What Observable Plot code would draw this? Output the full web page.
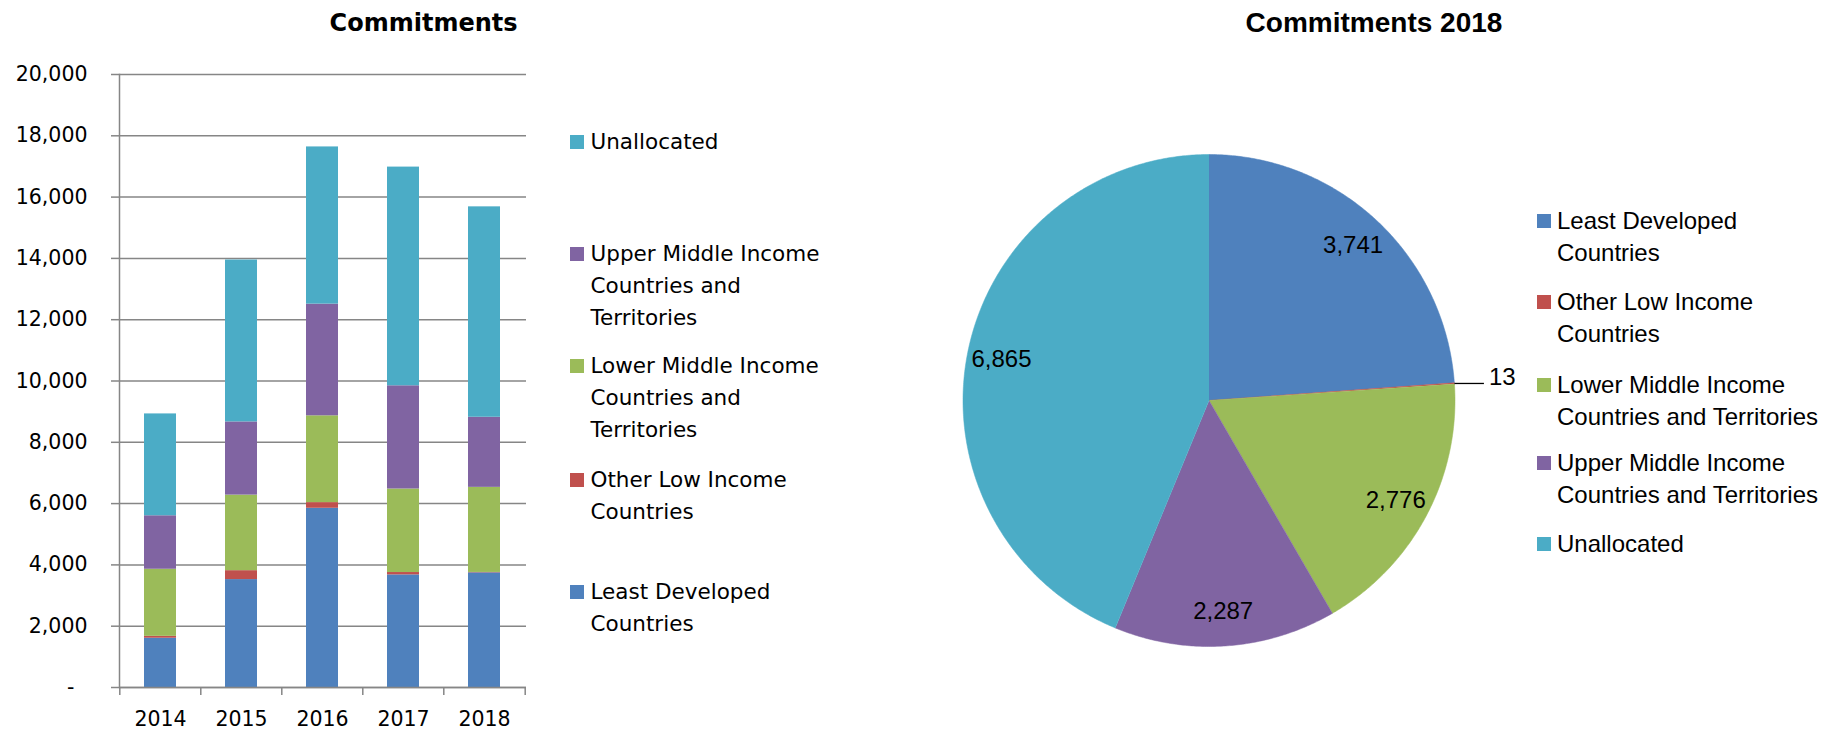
<!DOCTYPE html>
<html><head><meta charset="utf-8">
<script src="https://cdn.jsdelivr.net/npm/d3@7"></script>
<script src="https://cdn.jsdelivr.net/npm/@observablehq/plot@0.6"></script>
<style>
body{margin:0;background:#fff;}
#root{position:relative;width:1845px;height:737px;overflow:hidden;background:#fff;}
.abs{position:absolute;}
.title{position:absolute;transform:translate(-50%,-50%);white-space:nowrap;font-weight:bold;color:#000;}
.leg{position:absolute;display:flex;align-items:flex-start;color:#000;}
.sw{flex:none;}
.lt{white-space:pre;}
</style></head><body><div id="root"></div>
<script>
// ---------- data ----------
const years = ["2014","2015","2016","2017","2018"];
const seriesNames = ["Least Developed Countries","Other Low Income Countries","Lower Middle Income Countries and Territories","Upper Middle Income Countries and Territories","Unallocated"];
const seriesColors = ["#4F81BD","#C0504D","#9BBB59","#8064A2","#4BACC6"];
const ldc     = [1608,3521,5848,3674,3741];
const olic    = [61,291,184,77,13];
const lmic    = [2189,2465,2832,2725,2776];
const umic    = [1745,2388,3644,3368,2287];
const unalloc = [3323,5282,5129,7135,6865];
const yTicks = [0,2000,4000,6000,8000,10000,12000,14000,16000,18000,20000];
const barTitle = "Commitments";
const pieTitle = "Commitments 2018";
const pieYear = "2018";
// legend label line breaks
const leftLegendOrder = [4,3,2,1,0];
const leftLegendLines = [["Least Developed","Countries"],["Other Low Income","Countries"],["Lower Middle Income","Countries and","Territories"],["Upper Middle Income","Countries and","Territories"],["Unallocated"]];
const rightLegendLines = [["Least Developed","Countries"],["Other Low Income","Countries"],["Lower Middle Income","Countries and Territories"],["Upper Middle Income","Countries and Territories"],["Unallocated"]];

const seriesValues = [ldc, olic, lmic, umic, unalloc];
const long = [];
years.forEach((yr, i) => seriesNames.forEach((s, j) => long.push({year: yr, series: s, value: seriesValues[j][i]})));

const root = document.getElementById("root");
const fmt = d3.format(",");

// ---------- bar chart ----------
const W1 = 560, H1 = 737, ml = 119, mr = 34, mt = 74, mb = 50;
const step = (W1 - ml - mr) / years.length;
const gray = "#868686";
const bars = Plot.plot({
  width: W1, height: H1, marginLeft: ml, marginRight: mr, marginTop: mt, marginBottom: mb,
  style: {fontFamily: "DejaVu Sans", fontSize: "20.5px", color: "#000", background: "transparent"},
  x: {domain: years, paddingInner: 0.6, paddingOuter: 0.3, label: null},
  y: {domain: [0, 20000], label: null},
  color: {domain: seriesNames, range: seriesColors},
  marks: [
    Plot.gridY(yTicks, {stroke: gray, strokeOpacity: 1, strokeWidth: 1.5}),
    Plot.barY(long, Plot.stackY({x: "year", y: "value", fill: "series"})),
    Plot.axisY({ticks: yTicks, tickSize: 8, tickPadding: 24, stroke: gray, strokeWidth: 1.5, fill: "#000",
      tickFormat: d => d === 0 ? "-\u00a0\u00a0" : fmt(d), label: null}),
    Plot.axisX({tickSize: 0, tickPadding: 24, fill: "#000", label: null}),
    Plot.ruleY([0], {stroke: gray, strokeWidth: 1.5}),
    Plot.frame({anchor: "left", stroke: gray, strokeWidth: 1.5}),
    Plot.ruleX(years, {x: d => d, dx: -step / 2, insetTop: H1 - mt - mb, insetBottom: -8, stroke: gray, strokeWidth: 1.5}),
    Plot.ruleX([years[years.length - 1]], {x: d => d, dx: step / 2, insetTop: H1 - mt - mb, insetBottom: -8, stroke: gray, strokeWidth: 1.5})
  ]
});
bars.style.position = "absolute"; bars.style.left = "0px"; bars.style.top = "0px";
root.appendChild(bars);

// ---------- pie chart ----------
const yi = years.indexOf(pieYear);
const pieData = seriesNames.map((s, j) => ({series: s, value: seriesValues[j][yi]}));
const arcs = d3.pie().sort(null).value(d => d.value)(pieData);
const pts = [];
arcs.forEach(a => {
  const n = Math.max(2, Math.ceil((a.endAngle - a.startAngle) / (Math.PI / 360)));
  pts.push({series: a.data.series, x: 0, y: 0});
  for (let k = 0; k <= n; k++) {
    const t = a.startAngle + (a.endAngle - a.startAngle) * k / n;
    pts.push({series: a.data.series, x: Math.sin(t), y: Math.cos(t)});
  }
});
const total = d3.sum(pieData, d => d.value);
const inside = arcs.filter(a => a.data.value / total >= 0.01).map(a => {
  const m = (a.startAngle + a.endAngle) / 2;
  return {x: 0.86 * Math.sin(m), y: 0.86 * Math.cos(m), text: fmt(a.data.value)};
});
const outside = arcs.filter(a => a.data.value / total < 0.01).map(a => {
  const m = (a.startAngle + a.endAngle) / 2;
  return {x1: Math.sin(m), y1: Math.cos(m), x2: Math.sin(m) + 0.12, y2: Math.cos(m), text: fmt(a.data.value)};
});
const PW = 580, PH = 540, pcx = 1208.5 - 940, pcy = 400 - 130, pr = 246;
const pie = Plot.plot({
  width: PW, height: PH, marginLeft: pcx - pr, marginRight: PW - pcx - pr, marginTop: pcy - pr, marginBottom: PH - pcy - pr,
  style: {fontFamily: "Liberation Sans", fontSize: "24px", color: "#000", background: "transparent"},
  x: {domain: [-1, 1], axis: null},
  y: {domain: [-1, 1], axis: null},
  color: {domain: seriesNames, range: seriesColors},
  marks: [
    Plot.line(pts, {x: "x", y: "y", z: "series", fill: "series", stroke: "series", strokeWidth: 0.5, curve: "linear"}),
    Plot.text(inside, {x: "x", y: "y", text: "text", fill: "#000", fontSize: 24}),
    Plot.link(outside, {x1: "x1", y1: "y1", x2: "x2", y2: "y2", stroke: "#000", strokeWidth: 1.3}),
    Plot.text(outside, {x: "x2", y: "y2", text: "text", textAnchor: "start", dx: 5, dy: -6, fill: "#000", fontSize: 24})
  ]
});
pie.style.position = "absolute"; pie.style.left = "940px"; pie.style.top = "130px";
root.appendChild(pie);

// ---------- titles ----------
function addTitle(text, cx, cy, font, size) {
  const d = document.createElement("div");
  d.className = "title"; d.textContent = text;
  d.style.left = cx + "px"; d.style.top = cy + "px";
  d.style.fontFamily = font; d.style.fontSize = size + "px";
  root.appendChild(d);
}
addTitle(barTitle, 423.6, 23, "DejaVu Sans", 24);
addTitle(pieTitle, 1374, 23, "Liberation Sans", 28);

// ---------- legends ----------
function addLegend(idx, lines, x, cy, sw, gap, font, size, lh) {
  const d = document.createElement("div");
  d.className = "leg";
  d.style.left = x + "px"; d.style.top = (cy - lh / 2) + "px";
  d.style.fontFamily = font; d.style.fontSize = size + "px"; d.style.lineHeight = lh + "px";
  const s = document.createElement("div");
  s.className = "sw";
  s.style.width = sw + "px"; s.style.height = sw + "px"; s.style.background = seriesColors[idx];
  s.style.marginTop = ((lh - sw) / 2) + "px"; s.style.marginRight = gap + "px";
  const t = document.createElement("div");
  t.className = "lt"; t.textContent = lines.join("\n");
  d.appendChild(s); d.appendChild(t);
  root.appendChild(d);
}
const leftCy = [142, 254, 366, 480, 592];
leftLegendOrder.forEach((idx, k) => addLegend(idx, leftLegendLines[idx], 569.5, leftCy[k], 14, 7, "DejaVu Sans", 21.5, 31.8));
const rightCy = [221, 302, 385, 463, 544];
[0,1,2,3,4].forEach((idx, k) => addLegend(idx, rightLegendLines[idx], 1537, rightCy[k], 14, 6, "Liberation Sans", 24, 32));
</script></body></html>
